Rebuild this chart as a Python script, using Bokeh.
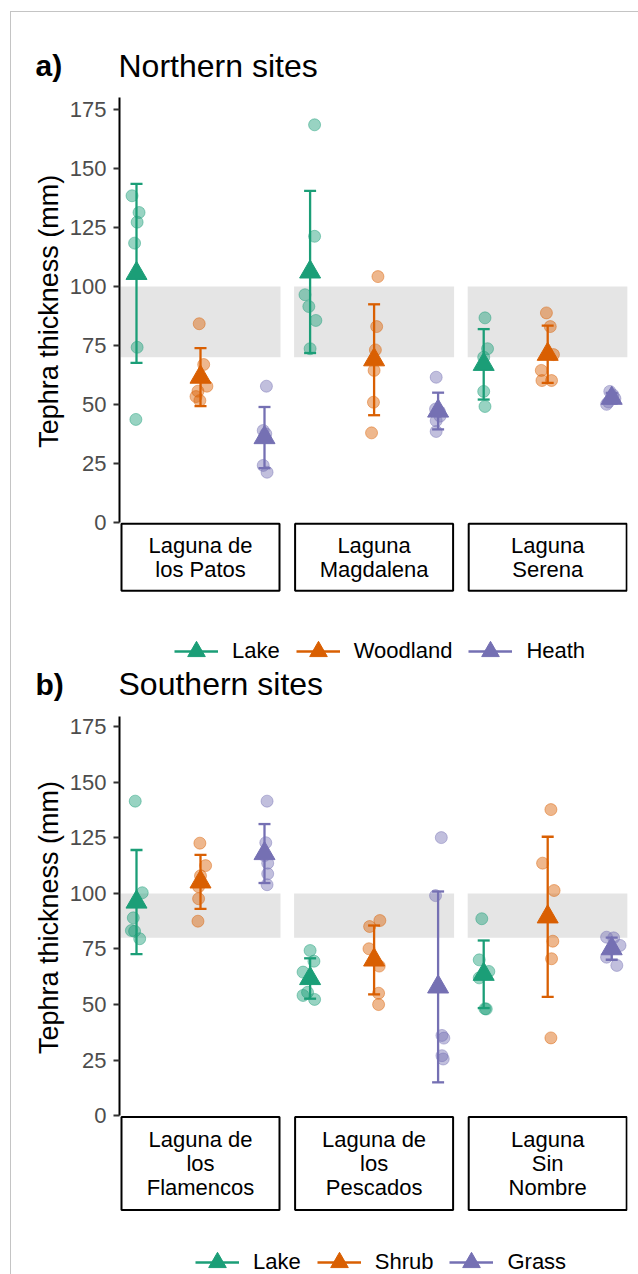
import numpy as np
from bokeh.plotting import figure
from bokeh.models import Legend, LegendItem, FixedTicker, Range1d, Title
from bokeh.layouts import column
from bokeh.core.properties import value
from bokeh.embed import file_html
from bokeh.resources import INLINE

FONT = "Liberation Sans"
COLORS = ["#1B9E77", "#D95F02", "#7570B3"]

# ---------------- data: northern sites ----------------
north_sites = ["Laguna de\nlos Patos", "Laguna\nMagdalena", "Laguna\nSerena"]
north_groups = ["Lake", "Woodland", "Heath"]
north_lake = [[138.5, 131.4, 127.3, 118.4, 74.2, 43.6],
              [168.6, 121.3, 96.5, 91.5, 85.6, 73.6],
              [86.7, 73.6, 70.0, 55.5, 49.1]]
north_woodland = [[84.2, 66.9, 57.7, 55.6, 53.3, 51.6],
                  [104.2, 83.0, 73.1, 64.4, 50.9, 37.9],
                  [88.8, 83.0, 71.1, 64.4, 60.1, 60.1]]
north_heath = [[57.7, 38.9, 37.5, 36.0, 24.1, 21.2],
               [61.5, 48.0, 47.0, 45.0, 43.0, 38.5],
               [55.5, 54.0, 52.5, 51.0, 50.0]]
north_band = [70, 100]
# horizontal jitter (fraction of group spacing)
north_lake_jit = [[-0.07, 0.04, 0.01, -0.03, 0.01, -0.01],
                  [0.07, 0.07, -0.08, -0.02, 0.09, 0.0],
                  [0.02, 0.06, 0.0, 0.0, 0.02]]
north_woodland_jit = [[-0.02, 0.05, 0.10, -0.04, -0.07, -0.01],
                      [0.06, 0.04, 0.02, 0.0, -0.01, -0.04],
                      [-0.02, 0.04, 0.09, -0.10, -0.09, 0.06]]
north_heath_jit = [[0.03, -0.02, 0.02, 0.0, -0.02, 0.04],
                   [-0.03, -0.04, 0.02, 0.03, -0.03, -0.03],
                   [-0.03, 0.02, 0.05, -0.05, -0.08]]

# ---------------- data: southern sites ----------------
south_sites = ["Laguna de\nlos\nFlamencos", "Laguna de\nlos\nPescados", "Laguna\nSin\nNombre"]
south_groups = ["Lake", "Shrub", "Grass"]
south_lake = [[141.5, 100.3, 89.0, 83.3, 83.0, 79.6],
              [74.3, 69.5, 64.6, 55.5, 54.1, 52.3],
              [88.6, 70.1, 64.9, 62.0, 48.1, 48.0]]
south_shrub = [[122.6, 112.5, 107.9, 103.0, 97.6, 87.5],
               [87.8, 85.1, 75.1, 67.3, 55.1, 50.0],
               [137.7, 113.6, 101.3, 78.5, 70.6, 35.0]]
south_grass = [[141.5, 122.8, 117.0, 113.6, 108.8, 103.9],
               [125.1, 99.0, 36.1, 34.9, 27.0, 25.5],
               [80.3, 80.0, 76.6, 75.0, 71.3, 67.6]]
south_band = [80, 100]
south_lake_jit = [[-0.02, 0.09, -0.05, -0.08, -0.03, 0.05],
                  [0.0, 0.06, -0.11, -0.04, -0.11, 0.07],
                  [-0.03, -0.07, 0.08, -0.07, 0.02, 0.04]]
south_shrub_jit = [[-0.01, 0.08, 0.0, -0.03, -0.03, -0.04],
                   [0.09, -0.07, -0.08, 0.08, 0.07, 0.07],
                   [0.05, -0.08, 0.10, 0.08, 0.06, 0.05]]
south_grass_jit = [[0.04, 0.02, 0.0, 0.05, 0.05, 0.04],
                   [0.05, -0.04, 0.06, 0.09, 0.06, 0.08],
                   [-0.08, 0.03, 0.13, 0.0, -0.08, 0.08]]

y_ticks = [0, 25, 50, 75, 100, 125, 150, 175]
y_label = "Tephra thickness (mm)"

# ---------------- layout constants (canvas starts at page x=11, y=12) ----------------
OX, OY = 11, 12
W = 627
BL, BR = 108, 11
FRAME_W = W - BL - BR
XPPU = 64.0            # px per group step
PANEL_W = 2.5
GAP = 13.6 / XPPU
X_START = 0.75 - 1.0 / XPPU
X_END = X_START + FRAME_W / XPPU
YLAB_PX = 27
YLAB_LEN = 276         # approx. rendered length of the y label


def panel_off(k):
    return k * (PANEL_W + GAP)


def make_header(tag, title, top_px, bottom_px, center_px):
    h = bottom_px - top_px
    hd = figure(width=W, height=h, x_range=Range1d(0, W), y_range=Range1d(0, h),
                x_axis_location=None, y_axis_location=None, output_backend="svg",
                toolbar_location=None, min_border=0, frame_align=False)
    hd.grid.visible = False
    hd.outline_line_color = None
    yc = h - (center_px - top_px)
    hd.text(x=[35 - OX], y=[yc], text=[tag], text_font=value(FONT), text_font_size="30px",
            text_font_style="bold", text_baseline="middle", text_align="left",
            text_color="black")
    hd.text(x=[118 - OX], y=[yc], text=[title], text_font=value(FONT),
            text_font_size="32px", text_baseline="middle", text_align="left",
            text_color="black")
    return hd


def make_plot(sites, groups, series, jitters, band, top_px, bottom_px, zero_px, ppu,
              axis_top, strip_top_px, strip_h_px, legend_left_px, legend_center_px):
    height = bottom_px - top_px
    y_top = (zero_px - top_px) / ppu
    y_start = (zero_px - bottom_px) / ppu

    p = figure(width=W, height=height, x_range=Range1d(X_START, X_END),
               y_range=Range1d(y_start, y_top), x_axis_location=None,
               output_backend="svg", toolbar_location=None,
               min_border_left=BL, min_border_right=BR,
               min_border_top=0, min_border_bottom=0)
    p.grid.visible = False
    p.outline_line_color = None

    lefts = [0.75 + panel_off(k) for k in range(3)]
    rights = [l + PANEL_W for l in lefts]
    p.quad(left=lefts, right=rights, bottom=band[0], top=band[1],
           fill_color="#e5e5e5", line_color=None)

    for gi, (vals, jits) in enumerate(zip(series, jitters)):
        c = COLORS[gi]
        xs, ys = [], []
        for k in range(3):
            for v, j in zip(vals[k], jits[k]):
                xs.append(panel_off(k) + gi + 1 + j)
                ys.append(v)
        p.scatter(xs, ys, marker="circle", size=12, fill_color=c, fill_alpha=0.45,
                  line_color=c, line_alpha=0.45, line_width=1)

    items = []
    for gi, vals in enumerate(series):
        c = COLORS[gi]
        mx = [panel_off(k) + gi + 1 for k in range(3)]
        means = [float(np.mean(vals[k])) for k in range(3)]
        sds = [float(np.std(vals[k], ddof=1)) for k in range(3)]
        lo = [m - s for m, s in zip(means, sds)]
        hi = [m + s for m, s in zip(means, sds)]
        cap = 6.0 / XPPU
        eb = p.segment(x0=mx, y0=lo, x1=mx, y1=hi, line_color=c, line_width=2.3)
        p.segment(x0=[x - cap for x in mx] * 2, y0=lo + hi,
                  x1=[x + cap for x in mx] * 2, y1=lo + hi,
                  line_color=c, line_width=2.3)
        tri = p.scatter(mx, means, marker="triangle", size=21, fill_color=c,
                        line_color=c, line_width=1)
        items.append(LegendItem(label=groups[gi], renderers=[eb, tri]))

    # facet strips (below panels)
    s_top = -strip_top_px / ppu
    s_bot = -(strip_top_px + strip_h_px) / ppu
    p.quad(left=[l + 1.0 / XPPU for l in lefts], right=[r - 1.0 / XPPU for r in rights],
           top=s_top, bottom=s_bot, fill_color="white", line_color="black", line_width=2)
    p.text(x=[(l + r) / 2 for l, r in zip(lefts, rights)], y=[(s_top + s_bot) / 2] * 3,
           text=sites, text_align="center", text_baseline="middle",
           text_font=value(FONT), text_font_size="22px", text_color="black",
           text_line_height=0.95)

    ax = p.yaxis[0]
    ax.ticker = FixedTicker(ticks=y_ticks)
    ax.bounds = (0, axis_top)
    ax.major_label_text_font = FONT
    ax.major_label_text_font_size = "22px"
    ax.major_label_text_color = "#4d4d4d"
    ax.major_label_standoff = 7
    ax.major_tick_out = 6
    ax.major_tick_in = 0
    ax.minor_tick_out = 0
    ax.minor_tick_in = 0
    ax.axis_line_width = 2
    ax.axis_line_color = "black"
    ax.major_tick_line_width = 2
    ax.major_tick_line_color = "#333333"

    # y label, centred on the axis line rather than on the whole frame
    axis_top_px = zero_px - axis_top * ppu
    label_center = (zero_px + axis_top_px) / 2
    offset = bottom_px - label_center - YLAB_LEN / 2
    p.add_layout(Title(text=y_label, align="left", offset=offset, standoff=6,
                       text_font=FONT, text_font_size=f"{YLAB_PX}px",
                       text_font_style="normal", text_color="black"), "left")

    gsz = 44
    leg_loc = (legend_left_px - (OX + BL), bottom_px - (legend_center_px + gsz / 2))
    legend = Legend(items=items, orientation="horizontal", location=leg_loc,
                    glyph_width=gsz, glyph_height=gsz, label_standoff=14, spacing=16,
                    padding=0, margin=0, border_line_color=None,
                    background_fill_alpha=0, label_text_font=FONT,
                    label_text_font_size="22px", label_text_color="black")
    p.add_layout(legend)
    return p


h1 = make_header("a)", "Northern sites", 12, 93, 65)
p1 = make_plot(north_sites, north_groups, [north_lake, north_woodland, north_heath],
               [north_lake_jit, north_woodland_jit, north_heath_jit], north_band,
               93, 663, 521.7, 2.357, 180.2, 1.5, 67, 174, 651)
h2 = make_header("b)", "Southern sites", 663, 712, 683.5)
p2 = make_plot(south_sites, south_groups, [south_lake, south_shrub, south_grass],
               [south_lake_jit, south_shrub_jit, south_grass_jit], south_band,
               712, 1274, 1115.2, 2.223, 179.6, 1.3, 93, 195, 1262)

layout = column(h1, p1, h2, p2, margin=(11, 0, 0, 10), spacing=0,
                styles={"border-top": "1px solid #c4c4c4", "border-left": "1px solid #c4c4c4"})

open("out.html", "w").write(file_html(layout, INLINE))
